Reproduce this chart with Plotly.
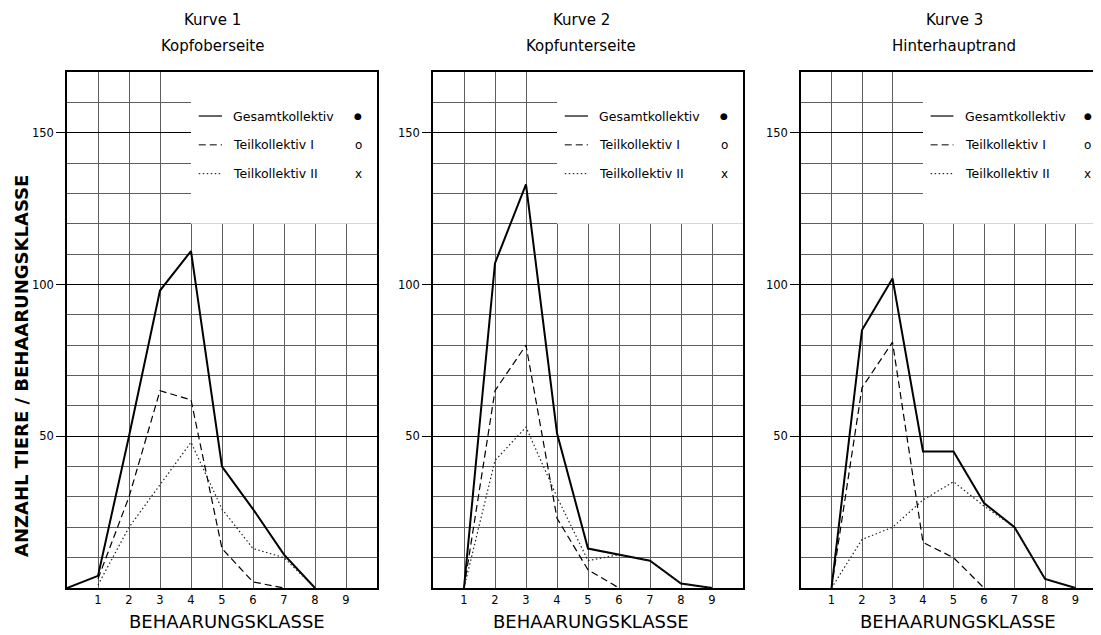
import plotly.graph_objects as go

# ---------------- data ----------------
klassen_tick = [1, 2, 3, 4, 5, 6, 7, 8, 9]
y_ticks = [50, 100, 150]

panel_titles = ["Kurve 1", "Kurve 2", "Kurve 3"]
panel_subtitles = ["Kopfoberseite", "Kopfunterseite", "Hinterhauptrand"]

p1_gesamt_x = [0, 1, 2, 3, 4, 5, 6, 7, 8]
p1_gesamt_y = [0, 4, 50, 98, 111, 40, 26, 11, 0]
p1_teil1_x = [1, 2, 3, 4, 5, 6, 7]
p1_teil1_y = [3, 30, 65, 62, 13, 2, 0]
p1_teil2_x = [1, 2, 3, 4, 5, 6, 7, 8]
p1_teil2_y = [1, 20, 34, 48, 26, 13, 10, 0]

p2_gesamt_x = [1, 2, 3, 4, 5, 6, 7, 8, 9]
p2_gesamt_y = [0, 107, 133, 51, 13, 11, 9, 1.5, 0]
p2_teil1_x = [1, 2, 3, 4, 5, 6]
p2_teil1_y = [0, 65, 80, 23, 6, 0]
p2_teil2_x = [1, 2, 3, 4, 5, 6, 7, 8, 9]
p2_teil2_y = [0, 42, 53, 30, 9, 11, 9, 1.5, 0]

p3_gesamt_x = [1, 2, 3, 4, 5, 6, 7, 8, 9]
p3_gesamt_y = [0, 85, 102, 45, 45, 28, 20, 3, 0]
p3_teil1_x = [1, 2, 3, 4, 5, 6]
p3_teil1_y = [0, 66, 81, 15, 10, 0]
p3_teil2_x = [1, 2, 3, 4, 5, 6, 7, 8, 9]
p3_teil2_y = [0, 16, 20, 29, 35, 27, 20, 3, 0]

legend_names = ["Gesamtkollektiv", "Teilkollektiv I", "Teilkollektiv II"]
legend_symbols = ["●", "o", "x"]

# ---------------- styling ----------------
# The page body has an 8px margin, so the figure is drawn 8px smaller and
# all reference pixel positions are shifted by that offset.
OFF = 8
W, H = 1101 - OFF, 635 - OFF


def px(xp):
    return (xp - OFF) / W


def py(yp):
    return 1 - (yp - OFF) / H


FONT = "DejaVu Sans, Liberation Sans, sans-serif"
styles = [
    dict(color="black", width=2.0, dash="solid"),
    dict(color="black", width=1.2, dash="7px,4px"),
    dict(color="#222", width=1.2, dash="1.5px,2.5px"),
]

panels = [
    (67, 377, 10.0, [(p1_gesamt_x, p1_gesamt_y), (p1_teil1_x, p1_teil1_y), (p1_teil2_x, p1_teil2_y)], 212, 227),
    (433, 743, 10.0, [(p2_gesamt_x, p2_gesamt_y), (p2_teil1_x, p2_teil1_y), (p2_teil2_x, p2_teil2_y)], 581, 591),
    (801, 1101, (1101 - 801) / 30.5, [(p3_gesamt_x, p3_gesamt_y), (p3_teil1_x, p3_teil1_y), (p3_teil2_x, p3_teil2_y)], 954, 958),
]

y_top_px, y_bot_px = 72, 588

fig = go.Figure()
layout = dict(
    width=W, height=H,
    margin=dict(l=0, r=0, t=0, b=0),
    paper_bgcolor="white", plot_bgcolor="white",
    showlegend=False,
    font=dict(family=FONT, color="black"),
)
annotations = []
shapes = []

for i, (xl, xr, xmax, series, title_cx, xt_cx) in enumerate(panels):
    n = "" if i == 0 else str(i + 1)
    xa, ya = "x" + n, "y" + n
    for (sx, sy), st in zip(series, styles):
        fig.add_trace(go.Scatter(x=sx, y=sy, mode="lines", line=st,
                                 xaxis=xa, yaxis=ya, hoverinfo="skip"))
    layout["xaxis" + n] = dict(
        domain=[px(xl), min(px(xr), 1.0)], range=[0, xmax], anchor=ya,
        tickvals=klassen_tick, ticktext=[str(v) for v in klassen_tick],
        ticks="", showgrid=True, gridcolor="#5e5e5e", gridwidth=0.8,
        showline=True, linecolor="black", linewidth=1.8, mirror=True,
        zeroline=False, tickfont=dict(size=11.5, family=FONT), automargin=False,
        fixedrange=True,
    )
    layout["yaxis" + n] = dict(
        domain=[py(y_bot_px), py(y_top_px)], range=[0, 170], anchor=xa,
        tickvals=y_ticks, ticktext=[str(v) for v in y_ticks],
        ticks="outside", ticklen=9, tickwidth=1.2, tickcolor="black",
        showgrid=True, gridcolor="black", gridwidth=1.4,
        minor=dict(dtick=10, tick0=0, showgrid=True, gridcolor="#5e5e5e", gridwidth=0.8, ticks=""),
        showline=True, linecolor="black", linewidth=1.5, mirror=True,
        zeroline=False, tickfont=dict(size=11.5, family=FONT), automargin=False,
        fixedrange=True,
    )
    # legend box (hides grid)
    shapes.append(dict(type="rect", xref=xa, yref=ya, x0=4, x1=10, y0=120, y1=170,
                       fillcolor="white", line=dict(width=0), layer="between"))
    rows = [155.5, 146, 136.5]
    for (name, sym, st, ry) in zip(legend_names, legend_symbols, styles, rows):
        shapes.append(dict(type="line", xref=xa, yref=ya, x0=4.25, x1=5.0, y0=ry, y1=ry,
                           line=dict(color="black", width=1.2 if st["dash"] == "solid" else 1.0,
                                     dash=st["dash"]), layer="above"))
        annotations.append(dict(xref=xa, yref=ya, x=5.3, y=ry, text=name, showarrow=False,
                                xanchor="left", yanchor="middle",
                                font=dict(size=12.5, family=FONT, color="black")))
        annotations.append(dict(xref=xa, yref=ya, x=9.4, y=ry, text=sym, showarrow=False,
                                xanchor="center", yanchor="middle",
                                font=dict(size=9 if sym == "●" else 12, family=FONT, color="black")))
    # panel titles
    annotations.append(dict(xref="paper", yref="paper", x=px(title_cx), y=py(20),
                            text=panel_titles[i], showarrow=False, xanchor="center", yanchor="middle",
                            font=dict(size=15, family=FONT, color="black")))
    annotations.append(dict(xref="paper", yref="paper", x=px(title_cx), y=py(46),
                            text=panel_subtitles[i], showarrow=False, xanchor="center", yanchor="middle",
                            font=dict(size=15, family=FONT, color="black")))
    # x axis title
    annotations.append(dict(xref="paper", yref="paper", x=px(xt_cx), y=py(621),
                            text="BEHAARUNGSKLASSE", showarrow=False, xanchor="center", yanchor="middle",
                            font=dict(size=18, family=FONT, color="black")))

# y axis title
annotations.append(dict(xref="paper", yref="paper", x=px(21), y=py(366),
                        text="<b>ANZAHL TIERE / BEHAARUNGSKLASSE</b>", showarrow=False, textangle=-90,
                        xanchor="center", yanchor="middle", borderpad=0,
                        font=dict(size=18, family=FONT, color="black")))

layout["annotations"] = annotations
layout["shapes"] = shapes
fig.update_layout(**layout)
fig.write_html("out.html")
